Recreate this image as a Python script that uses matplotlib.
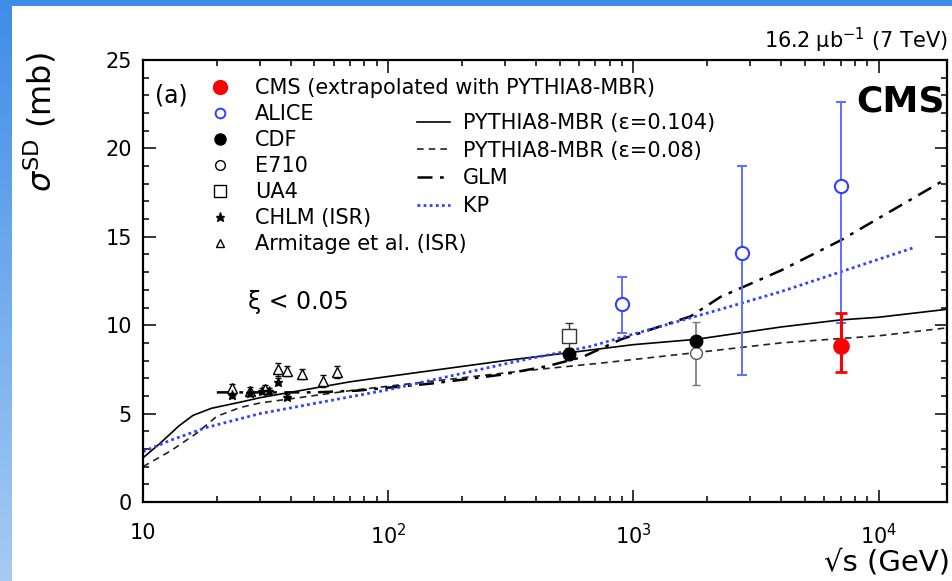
import numpy as np
import matplotlib
matplotlib.use('Agg')
import matplotlib.pyplot as plt
from matplotlib.lines import Line2D
from matplotlib.ticker import FixedLocator, FixedFormatter, MultipleLocator, LogLocator, NullFormatter

#%% data (sqrt(s) in GeV, sigma in mb)
cms_x = [7000]
cms_y = [8.8]
cms_lo = [1.45]
cms_hi = [1.9]

alice_x = [900, 2760, 7000]
alice_y = [11.2, 14.1, 17.9]
alice_lo = [1.65, 6.9, 7.8]
alice_hi = [1.5, 4.9, 4.7]

cdf_x = [546, 1800]
cdf_y = [8.35, 9.1]
cdf_err = [0.3, 0.3]

e710_x = [1800]
e710_y = [8.4]
e710_err = [1.8]

ua4_x = [546]
ua4_y = [9.4]
ua4_err = [0.7]

chlm_x = [23.1, 27.3, 30.6, 32.7, 35.5, 38.7]
chlm_y = [6.05, 6.15, 6.3, 6.3, 6.8, 5.95]
chlm_err = [0.15, 0.15, 0.15, 0.15, 0.2, 0.15]

armi_x = [23.1, 27.3, 31.5, 35.5, 38.7, 44.5, 54.2, 62.0]
armi_y = [6.45, 6.3, 6.4, 7.5, 7.4, 7.25, 6.85, 7.35]
armi_err = [0.25, 0.2, 0.2, 0.35, 0.3, 0.3, 0.35, 0.35]

# model curves
p104_x = [10, 11.7, 14, 16, 19, 25, 30, 70, 100, 300, 550, 1000, 1800, 4000, 7000, 10000, 19000]
p104_y = [2.5, 3.3, 4.3, 4.9, 5.3, 5.65, 5.9, 6.8, 7.1, 8.0, 8.45, 8.9, 9.2, 9.9, 10.3, 10.45, 10.9]

p08_x = [10, 13, 16.6, 20, 25, 30, 70, 100, 346, 730, 1800, 4000, 10000, 19000]
p08_y = [2.0, 2.9, 3.9, 4.85, 5.35, 5.6, 6.3, 6.55, 7.4, 7.85, 8.45, 9.0, 9.4, 9.85]

glm_x = [20, 30, 50, 75, 150, 290, 450, 620, 890, 1710, 2265, 4000, 7000, 19000]
glm_y = [6.2, 6.2, 6.2, 6.3, 6.7, 7.2, 7.7, 8.2, 9.2, 10.5, 11.6, 13.1, 14.8, 18.3]

kp_x = [10, 13, 18, 24, 30, 70, 100, 346, 667, 2265, 4000, 14000]
kp_y = [2.85, 3.5, 4.2, 4.65, 5.0, 5.95, 6.35, 8.0, 8.8, 10.9, 11.9, 14.4]

xtick_vals = [10, 100, 1000, 10000]
xtick_labels = ['10', '$10^2$', '$10^3$', '$10^4$']

#%% figure
W, H = 953, 581
fig = plt.figure(figsize=(W / 100, H / 100), dpi=100)

# slide background: blue strips on the left and top
grad = np.linspace(0, 1, 256).reshape(-1, 1)
bg_left = fig.add_axes([0, 0, 12 / W, 1])
bg_left.imshow(grad, aspect='auto', cmap=matplotlib.colors.LinearSegmentedColormap.from_list(
    'slide', ['#3f8de8', '#a6cbf3']), extent=[0, 1, 0, 1])
bg_left.axis('off')
bg_top = fig.add_axes([0, 1 - 6 / H, 1, 6 / H])
bg_top.set_facecolor('#3f8de8')
bg_top.set_xticks([])
bg_top.set_yticks([])
for s in bg_top.spines.values():
    s.set_visible(False)

ax = fig.add_axes([143 / W, 1 - 502 / H, (947 - 143) / W, (502 - 60) / H])
ax.set_xscale('log')
ax.set_xlim(10, 19000)
ax.set_ylim(0, 25)

blue = '#3040ff'
ax.plot(p104_x, p104_y, '-', color='black', lw=1.2)
ax.plot(p08_x, p08_y, '--', color='#222222', lw=1.2, dashes=(4, 3))
ax.plot(glm_x, glm_y, '-.', color='black', lw=1.8, dashes=(6, 3, 1.5, 3))
ax.plot(kp_x, kp_y, ':', color=blue, lw=2.0, dashes=(1, 1.2))

ax.errorbar(armi_x, armi_y, yerr=armi_err, fmt='^', ms=6.5, mfc='white', mec='black', mew=1.0,
            ecolor='black', elinewidth=0.8, capsize=2.5)
ax.errorbar(chlm_x, chlm_y, yerr=chlm_err, fmt='*', ms=6.5, color='black',
            ecolor='black', elinewidth=0.8, capsize=2.0)
ax.errorbar(ua4_x, ua4_y, yerr=ua4_err, fmt='s', ms=9.5, mfc='white', mec='#333333', mew=1.0,
            ecolor='#333333', elinewidth=1.0, capsize=3)
ax.errorbar(e710_x, e710_y, yerr=e710_err, fmt='o', ms=8.5, mfc='white', mec='#555555', mew=1.0,
            ecolor='#777777', elinewidth=1.2, capsize=3)
ax.errorbar(cdf_x, cdf_y, yerr=cdf_err, fmt='o', ms=9, color='black', elinewidth=1.0, capsize=2)
ax.errorbar(alice_x, alice_y, yerr=[alice_lo, alice_hi], fmt='o', ms=9.5, mfc='white', mec=blue,
            mew=1.5, ecolor='#6070ff', elinewidth=1.4, capsize=3.5)
ax.errorbar(cms_x, cms_y, yerr=[cms_lo, cms_hi], fmt='o', ms=11, color='#ff0000',
            elinewidth=2.2, capsize=4.5, capthick=2.0)

# axes cosmetics
ax.xaxis.set_major_locator(FixedLocator(xtick_vals))
ax.xaxis.set_major_formatter(FixedFormatter(xtick_labels))
ax.xaxis.set_minor_locator(LogLocator(base=10, subs=np.arange(2, 10)))
ax.xaxis.set_minor_formatter(NullFormatter())
ax.yaxis.set_major_locator(MultipleLocator(5))
ax.yaxis.set_minor_locator(MultipleLocator(1))
ax.tick_params(which='both', direction='in', top=True, right=True, width=1.1, labelsize=15)
ax.tick_params(which='major', length=9)
ax.tick_params(which='minor', length=4.5)
ax.tick_params(axis='x', which='major', pad=15)
ax.tick_params(axis='y', which='major', pad=8)
for s in ax.spines.values():
    s.set_linewidth(1.6)

fig.text(40 / W, 1 - 122 / H, r'$\sigma^{\rm SD}$ (mb)', rotation=90, ha='center', va='center', fontsize=23)
fig.text(950 / W, 1 - 562 / H, '√s (GeV)', ha='right', va='center', fontsize=21)
fig.text(948 / W, 1 - 40 / H, r'16.2 μb$^{\mathregular{-1}}$ (7 TeV)', ha='right', va='center', fontsize=15)
fig.text(945 / W, 1 - 102 / H, 'CMS', ha='right', va='center', fontsize=26, fontweight='bold')
fig.text(155 / W, 1 - 95 / H, '(a)', ha='left', va='center', fontsize=17)
fig.text(248 / W, 1 - 302 / H, 'ξ < 0.05', ha='left', va='center', fontsize=17)

# legends
fs = 15
h1 = [
    Line2D([], [], ls='none', marker='o', ms=10, color='#ff0000'),
    Line2D([], [], ls='none', marker='o', ms=7, mfc='white', mec=blue, mew=1.4),
    Line2D([], [], ls='none', marker='o', ms=8, color='black'),
    Line2D([], [], ls='none', marker='o', ms=7, mfc='white', mec='black', mew=1.0),
    Line2D([], [], ls='none', marker='s', ms=8, mfc='white', mec='black', mew=1.0),
    Line2D([], [], ls='none', marker='*', ms=6.5, color='black'),
    Line2D([], [], ls='none', marker='^', ms=5.5, mfc='white', mec='black', mew=1.0),
]
l1 = ['CMS (extrapolated with PYTHIA8-MBR)', 'ALICE', 'CDF', 'E710', 'UA4', 'CHLM (ISR)',
      'Armitage et al. (ISR)']
leg1 = ax.legend(h1, l1, loc='upper left', bbox_to_anchor=(209.6 / W, 1 - 78 / H),
                 bbox_transform=fig.transFigure, frameon=False, fontsize=fs, borderpad=0,
                 borderaxespad=0, handlelength=1.0, handletextpad=1.18, labelspacing=0.29)
ax.add_artist(leg1)

h2 = [
    Line2D([], [], ls='-', color='black', lw=1.2),
    Line2D([], [], ls='--', color='#222222', lw=1.2, dashes=(4, 3)),
    Line2D([], [], ls='-.', color='black', lw=1.8, dashes=(6, 3, 1.5, 3)),
    Line2D([], [], ls=':', color=blue, lw=2.0, dashes=(1, 1.2)),
]
l2 = ['PYTHIA8-MBR (ε=0.104)', 'PYTHIA8-MBR (ε=0.08)', 'GLM', 'KP']
ax.legend(h2, l2, loc='upper left', bbox_to_anchor=(417 / W, 1 - 113 / H),
          bbox_transform=fig.transFigure, frameon=False, fontsize=fs, borderpad=0,
          borderaxespad=0, handlelength=1.59, handletextpad=0.63, labelspacing=0.37)

fig.savefig('out.png', dpi=100)
